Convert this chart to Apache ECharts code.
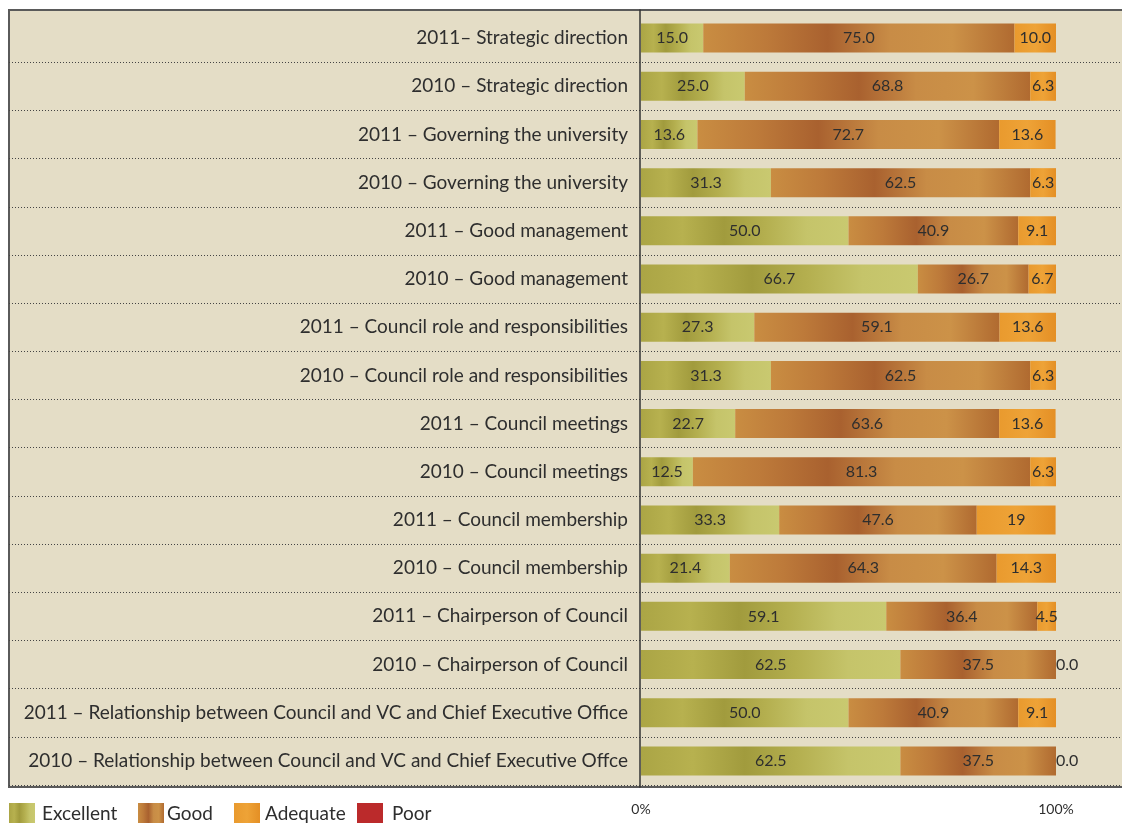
<!DOCTYPE html>
<html>
<head>
<meta charset="utf-8">
<script src="https://cdn.jsdelivr.net/npm/echarts@6/dist/echarts.min.js"></script>
<style>
  html, body { margin: 0; padding: 0; background: #fff; overflow: hidden; }
  #chart { width: 1170px; height: 823px; }
</style>
</head>
<body>
<div id="chart"></div>
<script>
// rows, top to bottom
const categories = [
  '2011– Strategic direction',
  '2010 – Strategic direction',
  '2011 – Governing the university',
  '2010 – Governing the university',
  '2011 – Good management',
  '2010 – Good management',
  '2011 – Council role and responsibilities',
  '2010 – Council role and responsibilities',
  '2011 – Council meetings',
  '2010 – Council meetings',
  '2011 – Council membership',
  '2010 – Council membership',
  '2011 – Chairperson of Council',
  '2010 – Chairperson of Council',
  '2011 – Relationship between Council and VC and Chief Executive Office',
  '2010 – Relationship between Council and VC and Chief Executive Offce'
];

// kept as printed in the source so labels read the same
const excellent = ['15.0', '25.0', '13.6', '31.3', '50.0', '66.7', '27.3', '31.3', '22.7', '12.5', '33.3', '21.4', '59.1', '62.5', '50.0', '62.5'];
const good      = ['75.0', '68.8', '72.7', '62.5', '40.9', '26.7', '59.1', '62.5', '63.6', '81.3', '47.6', '64.3', '36.4', '37.5', '40.9', '37.5'];
const adequate  = ['10.0', '6.3', '13.6', '6.3', '9.1', '6.7', '13.6', '6.3', '13.6', '6.3', '19', '14.3', '4.5', '0.0', '9.1', '0.0'];
const poor      = [0, 0, 0, 0, 0, 0, 0, 0, 0, 0, 0, 0, 0, 0, 0, 0];

const legendNames = ['Excellent', 'Good', 'Adequate', 'Poor'];
const legendLeft = [9, 138, 234, 357];
const legendTextPad = [2, -2, 0, 4];
const xTicks = ['0%', '100%'];

const FONT = 'Lato, "Open Sans", sans-serif';
const TXT = '#2e2e2e';

const chart = echarts.init(document.getElementById('chart'));

function grad(stops) {
  return new echarts.graphic.LinearGradient(0, 0, 1, 0,
    stops.map((c, i) => ({ offset: i / (stops.length - 1), color: c })));
}

const colors = {
  excellent: grad(['#aba545', '#b7b14f', '#a19b3d', '#b4af4f', '#c5c46a', '#c9c970']),
  good: grad(['#c98d42', '#bd7a3a', '#a9612f', '#c88c46', '#cc9248', '#b06a30']),
  adequate: grad(['#e99a2e', '#eea337', '#e48f25']),
  poor: '#bb2a2b'
};

function seriesFor(name, raw, color) {
  return {
    name: name,
    type: 'bar',
    stack: 'total',
    xAxisIndex: 1,
    yAxisIndex: 1,
    barWidth: 29,
    itemStyle: { color: color },
    label: {
      show: name !== 'Poor',
      color: TXT,
      fontFamily: FONT,
      fontSize: 16,
      formatter: p => raw[p.dataIndex]
    },
    data: raw.map(v => {
      const n = Number(v);
      if (n === 0 && name !== 'Poor') {
        return { value: n, label: { position: 'right', distance: 0 } };
      }
      return n;
    })
  };
}

const option = {
  animation: false,
  backgroundColor: '#ffffff',
  textStyle: { fontFamily: FONT },
  legend: legendNames.map((n, i) => ({
    left: legendLeft[i],
    top: 803,
    padding: 0,
    itemWidth: 26,
    itemHeight: 22,
    itemGap: 0,
    icon: 'rect',
    selectedMode: false,
    textStyle: {
      color: TXT, fontSize: 19, fontFamily: FONT,
      padding: [3, 0, 0, legendTextPad[i]]
    },
    data: [n]
  })),
  grid: [
    // beige frame, runs off the right edge of the page
    {
      left: 9, top: 10, width: 1150, height: 777,
      show: true,
      backgroundColor: '#e4ddc6',
      borderColor: '#5a5a5a',
      borderWidth: 2
    },
    // bars
    { left: 641, top: 14, width: 415, height: 771 },
    // row separators across the whole frame
    { left: 9, top: 14, width: 1150, height: 771 },
    // vertical axis rule, full frame height
    { left: 640, top: 10, width: 1, height: 777 }
  ],
  xAxis: [
    { gridIndex: 0, type: 'value', show: false, min: 0, max: 1 },
    {
      gridIndex: 1,
      type: 'value',
      min: 0,
      max: 100,
      interval: 100,
      axisLine: { show: false },
      axisTick: { show: false },
      splitLine: { show: false },
      axisLabel: {
        margin: 17,
        color: TXT,
        fontSize: 14,
        fontFamily: FONT,
        formatter: (v, i) => xTicks[i]
      }
    },
    { gridIndex: 2, type: 'value', show: false, min: 0, max: 1 },
    { gridIndex: 3, type: 'value', show: false, min: 0, max: 1 }
  ],
  yAxis: [
    { gridIndex: 0, type: 'value', show: false, min: 0, max: 1 },
    {
      gridIndex: 1,
      type: 'category',
      inverse: true,
      data: categories,
      axisLine: { show: false },
      axisTick: { show: false },
      axisLabel: {
        color: TXT,
        fontSize: 19,
        fontFamily: FONT,
        margin: 13
      }
    },
    {
      gridIndex: 2,
      type: 'category',
      inverse: true,
      data: categories,
      axisLine: { show: false },
      axisTick: { show: false },
      axisLabel: { show: false },
      splitLine: {
        show: true,
        interval: idx => idx > 0 && idx < categories.length,
        lineStyle: { color: '#444', type: [1, 2], width: 1 }
      }
    },
    {
      gridIndex: 3,
      type: 'value',
      min: 0,
      max: 1,
      axisLine: { show: true, lineStyle: { color: '#333', width: 1.5 } },
      axisTick: { show: false },
      axisLabel: { show: false },
      splitLine: { show: false }
    }
  ],
  series: [
    seriesFor('Excellent', excellent, colors.excellent),
    seriesFor('Good', good, colors.good),
    seriesFor('Adequate', adequate, colors.adequate),
    seriesFor('Poor', poor, colors.poor)
  ]
};

chart.setOption(option);
</script>
</body>
</html>
